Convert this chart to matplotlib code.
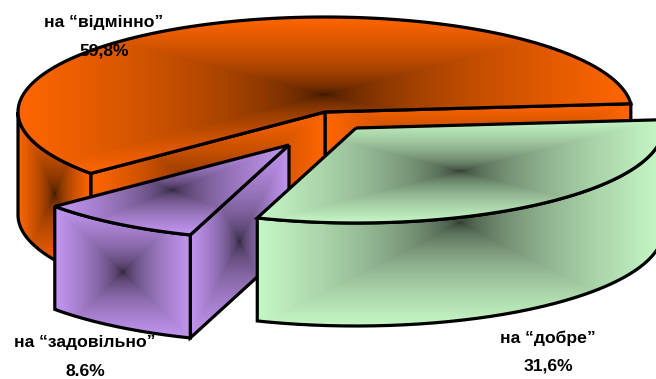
import matplotlib
matplotlib.use('Agg')
import matplotlib.pyplot as plt
import numpy as np
from matplotlib.colors import to_rgb
from matplotlib.patches import PathPatch
from matplotlib.path import Path

plt.rcParams['font.family'] = ['Liberation Sans', 'DejaVu Sans']

# shares of the three slices
names = ['на “відмінно”', 'на “добре”', 'на “задовільно”']
values = [59.8, 31.6, 8.6]
value_labels = ['59,8%', '31,6%', '8.6%']
colors = ['#FF6600', '#C6F7C6', '#C396F2']

START = 5.0
RX, RY, DEPTH = 307, 95, 103
DARK = 0.2
SHADE = 0.5

fig = plt.figure(figsize=(6.56, 3.79), dpi=100)
ax = fig.add_axes([0, 0, 1, 1])
ax.axis('off')
zorder = [1]


def arc(c, a, b, down=0):
    t = np.radians(np.linspace(a, b, 120))
    return np.column_stack([c[0] + RX * np.cos(t), c[1] - RY * np.sin(t) + down])


def face(verts, color):
    # every face gets its own rectangular shade, dark in the middle of its bbox
    verts = np.asarray(verts)
    x0, y0 = verts.min(axis=0)
    x1, y1 = verts.max(axis=0)
    u, v = np.meshgrid(np.linspace(-1, 1, 300), np.linspace(-1, 1, 300))
    k = DARK + (1 - DARK) * np.maximum(np.abs(u), np.abs(v)) ** SHADE
    img = k[..., None] * np.array(to_rgb(color))
    z = zorder[0]
    zorder[0] += 2
    patch = PathPatch(Path(np.vstack([verts, verts[:1]])), facecolor='none',
                      edgecolor='black', lw=2.3, joinstyle='miter', zorder=z + 1)
    ax.add_patch(patch)
    im = ax.imshow(img, extent=(x0, x1, y1, y0), aspect='auto', zorder=z,
                   interpolation='bilinear')
    im.set_clip_path(patch)


def cut(c, angle):
    t = np.radians(angle)
    p = (c[0] + RX * np.cos(t), c[1] - RY * np.sin(t))
    return [c, p, (p[0], p[1] + DEPTH), (c[0], c[1] + DEPTH)]


def wall(c, a, b):
    return np.vstack([arc(c, a, b), arc(c, b, a, DEPTH)])


def top(c, a, b):
    return np.vstack([[c], arc(c, a, b)])


big_a, big_b = START, START + 3.6 * values[0]
good_a, good_b = START - 3.6 * values[1], START
fair_a, fair_b = big_b, big_b + 3.6 * values[2]

big_c = (325, 112)
good_c = (356, 128)
fair_c = (289, 145)

face(cut(big_c, big_a), colors[0])
face(cut(big_c, big_b), colors[0])
face(wall(big_c, 180, big_b), colors[0])
face(top(big_c, big_a, big_b), colors[0])

face(cut(fair_c, fair_b), colors[2])
face(wall(fair_c, fair_a, fair_b), colors[2])
face(top(fair_c, fair_a, fair_b), colors[2])

face(wall(good_c, good_a, good_b), colors[1])
face(top(good_c, good_a, good_b), colors[1])

ax.set_xlim(0, 656)
ax.set_ylim(379, 0)

txt = dict(ha='center', va='center', fontsize=12.6, fontweight='bold',
           color='black', zorder=100)
ax.text(104, 23, names[0], **txt)
ax.text(104, 51, value_labels[0], **txt)
ax.text(548, 338, names[1], **txt)
ax.text(548, 366, value_labels[1], **txt)
ax.text(85, 343, names[2], **txt)
ax.text(85, 371, value_labels[2], **txt)

fig.savefig('out.png', dpi=100)
